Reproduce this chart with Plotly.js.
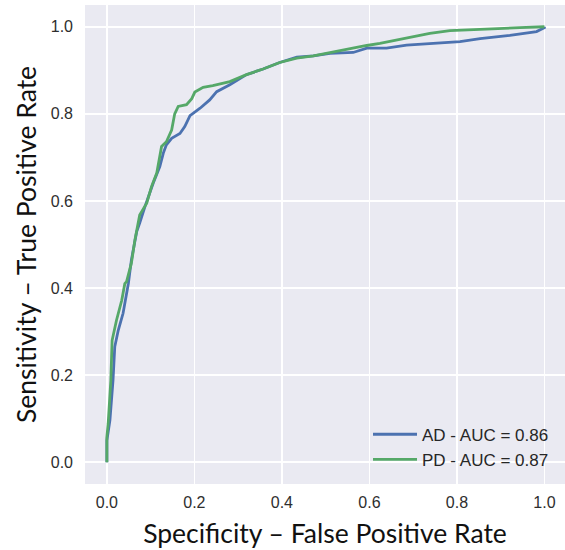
<!DOCTYPE html>
<html>
<head>
<meta charset="utf-8">
<script src="https://cdn.plot.ly/plotly-3.0.1.min.js"></script>
<style>html,body{margin:0;padding:0;background:#fff;}#chart{width:565px;height:550px;}</style>
</head>
<body>
<div id="chart"></div>
<script>
const seriesNames = ["AD - AUC = 0.86", "PD - AUC = 0.87"];
const adFpr = [0, 0, 0.007, 0.011, 0.014, 0.018, 0.026, 0.037, 0.045, 0.049, 0.056, 0.068, 0.075, 0.087, 0.106, 0.121, 0.129, 0.136, 0.148, 0.167, 0.178, 0.19, 0.213, 0.235, 0.251, 0.281, 0.319, 0.357, 0.395, 0.434, 0.472, 0.51, 0.563, 0.594, 0.639, 0.685, 0.807, 0.853, 0.921, 0.982, 1.0, 1.0];
const adTpr = [0, 0.05, 0.097, 0.15, 0.188, 0.265, 0.303, 0.342, 0.388, 0.41, 0.464, 0.529, 0.549, 0.587, 0.641, 0.679, 0.71, 0.729, 0.744, 0.755, 0.771, 0.796, 0.813, 0.832, 0.851, 0.867, 0.89, 0.903, 0.918, 0.93, 0.933, 0.939, 0.941, 0.951, 0.951, 0.958, 0.966, 0.973, 0.98, 0.989, 0.998, 1.0];
const pdFpr = [0, 0, 0.003, 0.007, 0.009, 0.012, 0.022, 0.034, 0.041, 0.045, 0.056, 0.064, 0.075, 0.091, 0.102, 0.114, 0.121, 0.125, 0.136, 0.148, 0.155, 0.163, 0.182, 0.194, 0.201, 0.22, 0.242, 0.281, 0.319, 0.357, 0.395, 0.434, 0.472, 0.51, 0.548, 0.594, 0.624, 0.685, 0.738, 0.784, 0.86, 0.944, 1.0];
const pdTpr = [0, 0.058, 0.089, 0.15, 0.188, 0.28, 0.326, 0.372, 0.41, 0.415, 0.457, 0.51, 0.568, 0.595, 0.633, 0.664, 0.702, 0.725, 0.736, 0.763, 0.80, 0.817, 0.821, 0.835, 0.85, 0.861, 0.865, 0.874, 0.89, 0.903, 0.918, 0.928, 0.933, 0.941, 0.949, 0.957, 0.962, 0.974, 0.985, 0.991, 0.995, 0.998, 1.0];
const tickVals = [0, 0.2, 0.4, 0.6, 0.8, 1.0];
const tickText = ["0.0", "0.2", "0.4", "0.6", "0.8", "1.0"];
const xTitle = "Specificity – False Positive Rate";
const yTitle = "Sensitivity – True Positive Rate";

const traces = [
  {x: adFpr, y: adTpr, name: seriesNames[0], type: "scatter", mode: "lines",
   line: {color: "#4C72B0", width: 2.8}},
  {x: pdFpr, y: pdTpr, name: seriesNames[1], type: "scatter", mode: "lines",
   line: {color: "#55A868", width: 2.8}}
];

const axisCommon = {
  tickvals: tickVals, ticktext: tickText,
  showgrid: true, gridcolor: "#FFFFFF", gridwidth: 1.5,
  zeroline: false, showline: false, ticks: "",
  tickfont: {family: "Liberation Sans, Arial, sans-serif", size: 16, color: "#2e2e2e"}
};

const layout = {
  width: 565, height: 550,
  margin: {l: 85, r: 0, t: 5, b: 66},
  paper_bgcolor: "#FFFFFF", plot_bgcolor: "#EAEAF2",
  showlegend: true,
  legend: {x: 0.5896, y: 0.1405, xanchor: "left", yanchor: "top",
    bgcolor: "rgba(0,0,0,0)", borderwidth: 0, tracegroupgap: 0, itemwidth: 44,
    font: {family: "Liberation Sans, Arial, sans-serif", size: 17, color: "#262626"}},
  xaxis: Object.assign({}, axisCommon, {range: [-0.05, 1.047], ticklabelstandoff: 7,
    title: {text: xTitle, standoff: 14, font: {family: "Lato, sans-serif", size: 26.5, color: "#111111"}}}),
  yaxis: Object.assign({}, axisCommon, {range: [-0.05, 1.05], ticklabelstandoff: 11,
    title: {text: yTitle, standoff: 6, font: {family: "Lato, sans-serif", size: 26.5, color: "#111111"}}})
};

Plotly.newPlot("chart", traces, layout, {displayModeBar: false, staticPlot: true});
</script>
</body>
</html>
